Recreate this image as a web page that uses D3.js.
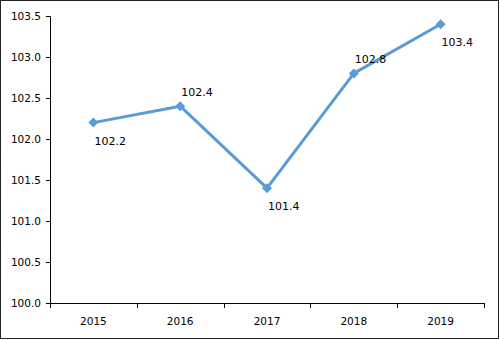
<!DOCTYPE html>
<html lang="en">
<head>
  <meta charset="UTF-8">
  <title>Index 2015–2019</title>
  <script src="https://d3js.org/d3.v7.min.js"></script>
  <style>
    body { margin: 0; background: white; }
    svg { display: block; font-family: "DejaVu Sans", Verdana, sans-serif; }
  </style>
</head>
<body>
<svg width="500" height="340"></svg>
<script>
  const years = ["2015", "2016", "2017", "2018", "2019"];
  const values = [102.2, 102.4, 101.4, 102.8, 103.4];
  const labelSide = ["below", "above", "below", "above", "below"];
  const yTicks = [100.0, 100.5, 101.0, 101.5, 102.0, 102.5, 103.0, 103.5];

  const svg = d3.select("svg");
  const margin = { top: 16, right: 16, bottom: 37, left: 50 };
  const width = 500 - margin.left - margin.right,
        height = 340 - margin.top - margin.bottom;

  svg.append("rect")
    .attr("x", 0.5).attr("y", 0.5)
    .attr("width", 498).attr("height", 338)
    .attr("fill", "white").attr("stroke", "#222");

  const chart = svg.append("g").attr("transform", `translate(${margin.left},${margin.top})`);

  const x = d3.scaleBand().domain(years).range([0, width]);
  const y = d3.scaleLinear().domain([100, 103.5]).range([height, 0]);

  // y axis
  const yAxis = chart.append("g")
    .call(d3.axisLeft(y).tickValues(yTicks).tickFormat(d3.format(".1f")).tickSize(4).tickPadding(5));
  yAxis.select(".domain").attr("stroke", "#000").attr("d", `M-4,0.5H0.5V${height + 0.5}`);
  yAxis.selectAll(".tick line").attr("stroke", "#000");
  yAxis.selectAll("text").attr("font-size", 10.5).attr("fill", "#000").attr("font-family", "DejaVu Sans, sans-serif");

  // x axis with ticks at category boundaries
  const xAxis = chart.append("g").attr("transform", `translate(0,${height})`);
  xAxis.append("line")
    .attr("x1", 0).attr("x2", width).attr("y1", 0.5).attr("y2", 0.5)
    .attr("stroke", "#000");
  const bounds = years.map(d => x(d)).concat([width]);
  xAxis.selectAll(".bt").data(bounds).enter().append("line")
    .attr("x1", d => Math.round(d) + 0.5).attr("x2", d => Math.round(d) + 0.5)
    .attr("y1", 0).attr("y2", 5).attr("stroke", "#000");
  xAxis.selectAll(".lbl").data(years).enter().append("text")
    .attr("x", d => x(d) + x.bandwidth() / 2)
    .attr("y", 22)
    .attr("text-anchor", "middle")
    .attr("font-size", 10.5)
    .text(d => d);

  const pts = years.map((d, i) => ({ year: d, value: values[i], side: labelSide[i] }));
  const cx = d => x(d.year) + x.bandwidth() / 2;

  chart.append("path")
    .datum(pts)
    .attr("fill", "none")
    .attr("stroke", "#5B9BD5")
    .attr("stroke-width", 3)
    .attr("stroke-linejoin", "round")
    .attr("d", d3.line().x(cx).y(d => y(d.value)));

  chart.selectAll(".mk").data(pts).enter().append("path")
    .attr("transform", d => `translate(${cx(d)},${y(d.value)})`)
    .attr("d", "M0,-5L5,0L0,5L-5,0Z")
    .attr("fill", "#5B9BD5");

  chart.selectAll(".val").data(pts).enter().append("text")
    .attr("x", d => cx(d) + 1)
    .attr("y", d => y(d.value) + (d.side === "below" ? 22 : -10))
    .attr("font-size", 11)
    .text(d => d3.format(".1f")(d.value));
</script>
</body>
</html>
